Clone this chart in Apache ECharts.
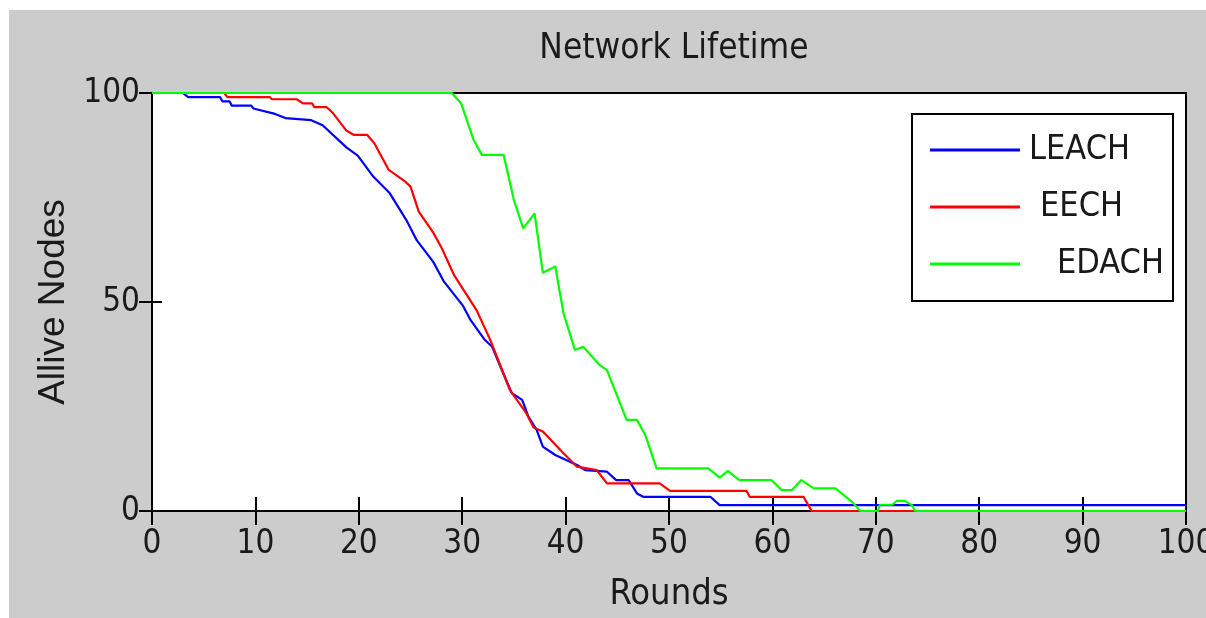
<!DOCTYPE html>
<html>
<head>
<meta charset="utf-8">
<script src="https://cdn.jsdelivr.net/npm/echarts@6/dist/echarts.min.js"></script>
<style>
body { margin: 0; background: #fff; }
#main { position: absolute; left: 9px; top: 10px; width: 1197px; height: 608px; }
</style>
</head>
<body>
<div id="main"></div>
<script>
// values
var seriesNames = ['LEACH', 'EECH', 'EDACH'];
var xTicks = [0, 10, 20, 30, 40, 50, 60, 70, 80, 90, 100];
var yTicks = [0, 50, 100];

var leachRounds = [0, 3, 3.5, 6.6, 6.8, 7.5, 7.7, 9.6, 9.8, 11.9, 12.9, 15.4, 16.5, 18.8, 19.9, 21.4, 23, 24.6, 25.6, 27.2, 28.2, 30.1, 30.8, 32.2, 32.9, 33.7, 34.8, 35.8, 36.4, 37.2, 37.8, 39, 41.1, 41.9, 44, 44.9, 46.1, 46.9, 47.5, 54, 54.9, 100];
var leachNodes  = [100, 100, 99, 99, 98, 98, 97, 97, 96.3, 95, 94, 93.5, 92.3, 87, 85, 80, 76, 69.6, 64.8, 59.6, 55, 49, 45.7, 40.9, 39.3, 34.5, 28.2, 26.6, 22.6, 19.4, 15.4, 13.4, 11, 9.8, 9.4, 7.4, 7.4, 4.2, 3.4, 3.4, 1.4, 1.4];

var eechRounds = [0, 7, 7.3, 11.4, 11.6, 14, 14.6, 15.5, 15.7, 16.9, 17.5, 18.8, 19.5, 20.8, 21.5, 22.9, 24.4, 25, 25.8, 27.2, 28, 29.2, 31.4, 32.7, 33.5, 34.6, 36.2, 36.9, 37.8, 39.8, 41.1, 43, 44, 49.1, 50.1, 57.5, 57.8, 63, 63.8, 100];
var eechNodes  = [100, 100, 99, 99, 98.5, 98.5, 97.5, 97.5, 96.6, 96.6, 95.2, 91, 90, 90, 88, 81.6, 79, 77.6, 71.6, 66.6, 63, 56.5, 48, 41, 36, 29, 23.4, 20, 19, 13.8, 10.6, 9.8, 6.6, 6.6, 4.8, 4.8, 3.4, 3.4, 0, 0];

var edachRounds = [0, 29, 29.9, 31.1, 31.9, 34, 35, 35.9, 37, 37.8, 39, 39.8, 40.9, 41.7, 43.3, 44, 45.9, 46.9, 47.7, 48.8, 53.8, 54.9, 55.7, 56.8, 59.9, 60.9, 61.9, 62.8, 64, 66.1, 67.7, 68.5, 70.2, 70.4, 71.6, 72, 72.8, 73.5, 73.8, 100];
var edachNodes  = [100, 100, 97.5, 88.8, 85.2, 85.2, 74.4, 67.6, 71.2, 57, 58.5, 47.3, 38.5, 39.3, 34.9, 33.7, 21.8, 21.8, 18.2, 10.2, 10.2, 8, 9.6, 7.4, 7.4, 5, 5, 7.4, 5.4, 5.4, 2.2, 0, 0, 1.5, 1.5, 2.4, 2.4, 1.4, 0, 0];

function pairs(xs, ys) {
    var out = [];
    for (var i = 0; i < xs.length; i++) out.push([xs[i], ys[i]]);
    return out;
}

var narrow = "'Liberation Sans Narrow', 'Arial Narrow', 'DejaVu Sans Condensed', sans-serif";
var regular = "'Liberation Sans', Arial, sans-serif";
var colors = ['#0000ff', '#ff0000', '#00ff00'];
var legendPad = [4, 15, 32];

function legendRich(i) {
    return { fontFamily: narrow, fontSize: 34, color: '#1a1a1a', lineHeight: 20, padding: [0, 0, 0, legendPad[i]] };
}

var chart = echarts.init(document.getElementById('main'));
chart.setOption({
    backgroundColor: '#cccccc',
    animation: false,
    color: colors,
    title: {
        text: 'Network Lifetime',
        left: 660,
        textAlign: 'center',
        top: 16,
        textStyle: { fontFamily: narrow, fontSize: 35, fontWeight: 'normal', color: '#1a1a1a' }
    },
    grid: {
        left: 143, top: 83, right: 20, bottom: 107,
        outerBoundsMode: 'none',
        show: true, backgroundColor: '#ffffff', borderColor: '#000', borderWidth: 2
    },
    legend: {
        orient: 'vertical',
        left: 921,
        top: 123,
        padding: 0,
        z: 6,
        itemWidth: 90,
        itemHeight: 20,
        itemGap: 23,
        data: seriesNames.map(function (n, i) {
            return { name: n, icon: 'path://M0,8.5L90,8.5L90,11.5L0,11.5Z', itemStyle: { color: colors[i] } };
        }),
        formatter: function (name) {
            return '{p' + seriesNames.indexOf(name) + '|' + name + '}';
        },
        textStyle: {
            fontFamily: narrow, fontSize: 34, color: '#1a1a1a', lineHeight: 20,
            rich: { p0: legendRich(0), p1: legendRich(1), p2: legendRich(2) }
        }
    },
    graphic: [{
        type: 'rect',
        z: 5,
        shape: { x: 903, y: 104, width: 261, height: 187 },
        style: { fill: '#fff', stroke: '#000', lineWidth: 2 }
    }],
    xAxis: [{
        type: 'value', min: 0, max: 100, interval: 10,
        name: 'Rounds', nameLocation: 'middle', nameGap: 66,
        nameTextStyle: { fontFamily: narrow, fontSize: 36, color: '#1a1a1a' },
        axisLine: { lineStyle: { color: '#000', width: 2 } },
        axisTick: { inside: true, length: 14, lineStyle: { color: '#000', width: 2 } },
        axisLabel: {
            margin: 17, fontFamily: narrow, fontSize: 33, color: '#1a1a1a',
            formatter: function (v) { return xTicks.indexOf(v) >= 0 ? String(v) : ''; }
        },
        splitLine: { show: false }
    }, {
        type: 'value', min: 0, max: 100, interval: 10, position: 'top',
        axisLine: { lineStyle: { color: '#000', width: 2 } },
        axisTick: { inside: true, length: 14, lineStyle: { color: '#000', width: 2 } },
        axisLabel: { show: false },
        splitLine: { show: false }
    }],
    yAxis: [{
        type: 'value', min: 0, max: 100, interval: 50,
        name: 'Allive Nodes', nameLocation: 'middle', nameGap: 76,
        nameTextStyle: { fontFamily: regular, fontSize: 37, color: '#1a1a1a' },
        axisLine: { show: true, lineStyle: { color: '#000', width: 2 } },
        axisTick: { show: true, inside: true, length: 10, lineStyle: { color: '#000', width: 2 } },
        axisLabel: {
            margin: 12, fontFamily: narrow, fontSize: 33, color: '#1a1a1a',
            formatter: function (v) { return yTicks.indexOf(v) >= 0 ? String(v) : ''; }
        },
        splitLine: { show: false }
    }, {
        type: 'value', min: 0, max: 100, interval: 50, position: 'right',
        axisLine: { show: true, lineStyle: { color: '#000', width: 2 } },
        axisTick: { show: true, inside: true, length: 13, lineStyle: { color: '#000', width: 2 } },
        axisLabel: { show: false },
        splitLine: { show: false }
    }],
    series: [{
        name: seriesNames[0], type: 'line', symbol: 'none',
        lineStyle: { width: 2.2, color: colors[0] },
        data: pairs(leachRounds, leachNodes)
    }, {
        name: seriesNames[1], type: 'line', symbol: 'none',
        lineStyle: { width: 2.2, color: colors[1] },
        data: pairs(eechRounds, eechNodes)
    }, {
        name: seriesNames[2], type: 'line', symbol: 'none',
        lineStyle: { width: 2.2, color: colors[2] },
        data: pairs(edachRounds, edachNodes)
    }]
});
</script>
</body>
</html>
